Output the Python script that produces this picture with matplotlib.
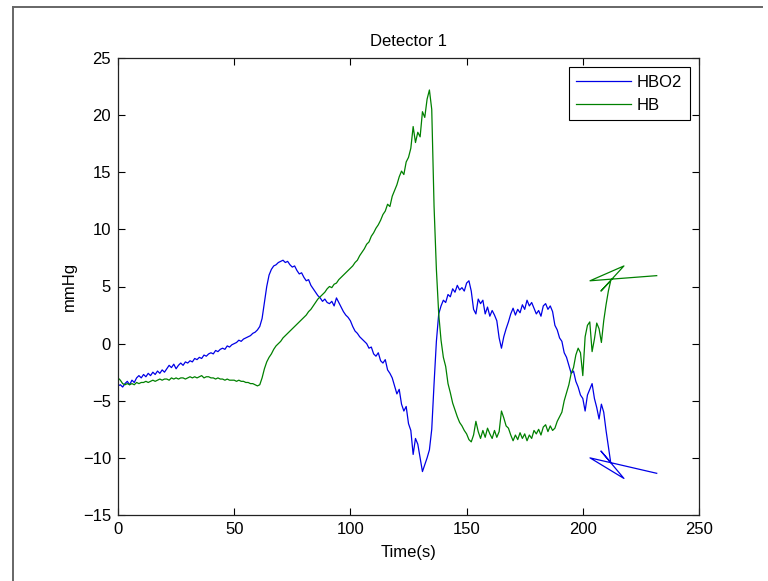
import matplotlib
matplotlib.use("Agg")
import matplotlib.pyplot as plt
from matplotlib.lines import Line2D

plt.rcParams['font.family'] = ['Liberation Sans', 'DejaVu Sans']

# Sample times (s); the recording wraps back on itself at the end
time_s = list(range(0, 213)) + [207.8, 217.7, 203.1, 231.8]

hbo2 = [
    -3.7, -3.6, -3.8, -3.5, -3.3, -3.6, -3.2, -3.4, -3.0, -2.8,
    -3.0, -2.7, -2.9, -2.6, -2.8, -2.5, -2.7, -2.4, -2.6, -2.3,
    -2.5, -2.2, -1.9, -2.1, -1.8, -2.2, -1.9, -1.7, -1.9, -1.6,
    -1.7, -1.5, -1.6, -1.3, -1.4, -1.2, -1.3, -1.0, -1.1, -0.9,
    -0.8, -0.9, -0.6, -0.7, -0.5, -0.4, -0.5, -0.2, -0.3, -0.1,
    0.0, 0.1, 0.3, 0.2, 0.4, 0.5, 0.6, 0.7, 0.9, 1.0,
    1.2, 1.5, 2.2, 3.6, 5.0, 6.0, 6.5, 6.8, 6.9, 7.1,
    7.2, 7.3, 7.1, 7.2, 6.9, 6.7, 6.8, 6.4, 6.1, 6.2,
    5.8, 5.5, 5.6, 5.1, 4.8, 4.5, 4.2, 4.0, 3.7, 3.9,
    3.6, 3.5, 3.7, 3.3, 4.0, 3.6, 3.2, 2.8, 2.5, 2.3,
    2.0, 1.5, 1.1, 0.9, 0.6, 0.4, 0.2, 0.0, -0.4, -0.3,
    -0.9, -1.1, -0.8, -1.5, -1.7, -1.4, -2.3, -2.6, -3.0, -3.7,
    -4.4, -4.0, -5.3, -5.9, -5.5, -7.0, -7.6, -9.7, -8.3, -8.8,
    -10.0, -11.2, -10.6, -10.0, -9.3, -7.5, -3.5, 0.2, 2.6, 3.3,
    3.8, 3.6, 4.3, 4.1, 4.8, 4.5, 5.1, 4.7, 4.9, 4.6,
    5.3, 5.5, 4.6, 3.0, 2.6, 3.9, 3.5, 3.8, 2.6, 3.2,
    2.4, 2.9, 2.5, 2.0, 0.5, -0.4, 0.6, 1.3, 1.9, 2.6,
    3.1, 2.5, 3.0, 2.7, 3.4, 3.0, 3.8, 3.3, 3.6, 3.1,
    2.6, 2.9, 2.4, 3.3, 3.5, 3.0, 3.3, 2.8, 1.6, 1.2,
    0.5, 0.2, -0.8, -1.2, -1.9, -2.6, -2.4, -3.3, -3.8, -4.5,
    -4.8, -5.9, -4.5, -4.0, -3.5, -4.8, -5.6, -6.6, -5.3, -6.0,
    -7.6, -9.0, -10.4,
    -9.4, -11.8, -10.0, -11.35,
]

hb = [
    -3.0, -3.2, -3.5, -3.6, -3.5, -3.6, -3.5, -3.6, -3.4, -3.5,
    -3.4, -3.4, -3.3, -3.4, -3.3, -3.2, -3.3, -3.2, -3.1, -3.2,
    -3.1, -3.1, -3.2, -3.0, -3.1, -3.0, -3.1, -3.0, -3.0, -3.1,
    -3.0, -2.9, -3.0, -2.9, -3.0, -2.9, -2.8, -3.0, -2.9, -2.9,
    -3.0, -3.0, -3.1, -3.0, -3.1, -3.1, -3.2, -3.1, -3.2, -3.2,
    -3.2, -3.3, -3.2, -3.3, -3.3, -3.4, -3.4, -3.5, -3.5, -3.6,
    -3.7, -3.6, -3.0, -2.2, -1.6, -1.2, -0.9, -0.5, -0.2, 0.0,
    0.2, 0.5, 0.7, 0.9, 1.1, 1.3, 1.5, 1.7, 1.9, 2.1,
    2.3, 2.5, 2.8, 3.0, 3.3, 3.6, 3.9, 4.1, 4.3, 4.5,
    4.8, 5.0, 4.9, 5.2, 5.3, 5.6, 5.8, 6.0, 6.2, 6.4,
    6.6, 6.8, 7.1, 7.3, 7.7, 8.0, 8.3, 8.7, 8.9, 9.4,
    9.7, 10.1, 10.4, 10.8, 11.3, 11.6, 12.2, 12.0, 12.9, 13.4,
    13.9, 14.6, 15.1, 14.8, 15.9, 16.3, 17.1, 19.0, 17.6, 18.5,
    18.1, 20.3, 19.8, 21.4, 22.2, 20.5, 12.0, 6.5, 2.6, 0.3,
    -1.2, -2.0, -3.5, -4.3, -5.2, -5.8, -6.4, -6.9, -7.2, -7.6,
    -7.9, -8.4, -8.6, -8.0, -6.8, -7.7, -8.3, -7.6, -8.2, -7.4,
    -7.9, -8.3, -7.6, -8.2, -7.7, -5.9, -6.5, -7.2, -7.4, -8.0,
    -8.5, -8.0, -8.4, -7.8, -8.3, -7.9, -8.5, -8.0, -8.3, -7.6,
    -7.9, -7.5, -8.0, -7.3, -7.1, -7.7, -7.2, -7.6, -7.4, -6.8,
    -6.4, -6.0, -5.0, -4.3, -3.6, -2.6, -2.1, -1.0, -0.4, -0.8,
    -2.8, 0.6, 1.6, 1.9, -0.7, 0.4, 1.8, 1.3, 0.1, 2.0,
    3.4, 4.6, 5.5,
    4.6, 6.8, 5.5, 5.95,
]

series_names = ["HBO2", "HB"]
x_ticks = [0, 50, 100, 150, 200, 250]
y_ticks = [-15, -10, -5, 0, 5, 10, 15, 20, 25]

fig = plt.figure(figsize=(7.68, 5.81), dpi=100, facecolor='white')
ax = fig.add_axes([118 / 768, 1 - 515 / 581, (699 - 118) / 768, (515 - 58) / 581])

ax.plot(time_s, hbo2, color=(0, 0, 0.9), lw=0.9, label=series_names[0])
ax.plot(time_s, hb, color=(0, 0.5, 0), lw=0.9, label=series_names[1])

ax.set_xlim(0, 250)
ax.set_ylim(-15, 25)
ax.set_xticks(x_ticks)
ax.set_yticks(y_ticks)
ax.tick_params(direction='in', top=True, right=True, length=5, width=0.8,
               labelsize=12, pad=5, colors='black')
for s in ax.spines.values():
    s.set_linewidth(0.9)
    s.set_color('#222222')

ax.set_title("Detector 1", fontsize=12, pad=9)
ax.set_xlabel("Time(s)", fontsize=12, labelpad=6)
ax.set_ylabel("mmHg", fontsize=12, labelpad=4)

leg = ax.legend(loc='upper right', fontsize=12, fancybox=False, framealpha=1,
                edgecolor='black', handlelength=3.3, handletextpad=0.35,
                labelspacing=0.5, borderaxespad=0.55, borderpad=0.45)
leg.get_frame().set_linewidth(0.8)

# Window frame lines along the top and left edges
fig.add_artist(Line2D([12.7 / 768, 762 / 768], [1 - 6.7 / 581, 1 - 6.7 / 581],
                      transform=fig.transFigure, color='#666666', lw=1.4))
fig.add_artist(Line2D([12.7 / 768, 12.7 / 768], [0.0, 1 - 6.7 / 581],
                      transform=fig.transFigure, color='#666666', lw=1.4))

fig.savefig("out.png", dpi=100, facecolor='white')
